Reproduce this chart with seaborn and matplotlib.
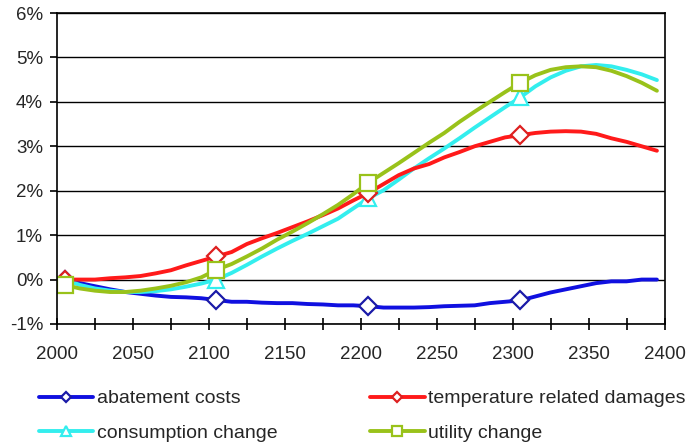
import numpy as np
import pandas as pd
import matplotlib
matplotlib.use("Agg")
import matplotlib.pyplot as plt
from matplotlib.ticker import MultipleLocator, FuncFormatter
import seaborn as sns

years = list(range(2005, 2400, 10))

abatement_costs = [
    -0.02, -0.08, -0.15, -0.22, -0.28, -0.32, -0.36, -0.39, -0.40, -0.42,
    -0.46, -0.50, -0.50, -0.52, -0.53, -0.53, -0.55, -0.56, -0.58, -0.58,
    -0.60, -0.63, -0.63, -0.63, -0.62, -0.60, -0.59, -0.58, -0.53, -0.50,
    -0.47, -0.38, -0.29, -0.22, -0.15, -0.08, -0.04, -0.04, 0.00, 0.00,
]
temperature_damages = [
    0.00, 0.00, 0.00, 0.03, 0.05, 0.08, 0.14, 0.21, 0.32, 0.42,
    0.52, 0.62, 0.80, 0.93, 1.05, 1.18, 1.31, 1.45, 1.60, 1.78,
    1.95, 2.15, 2.35, 2.50, 2.60, 2.75, 2.87, 3.00, 3.10, 3.20,
    3.25, 3.30, 3.33, 3.34, 3.33, 3.28, 3.18, 3.10, 3.00, 2.90,
]
consumption_change = [
    0.00, -0.12, -0.20, -0.25, -0.28, -0.28, -0.26, -0.22, -0.16, -0.09,
    0.00, 0.15, 0.33, 0.52, 0.70, 0.87, 1.03, 1.20, 1.37, 1.60,
    1.83, 2.01, 2.25, 2.50, 2.73, 2.95, 3.18, 3.42, 3.65, 3.88,
    4.10, 4.35, 4.55, 4.70, 4.80, 4.83, 4.80, 4.72, 4.62, 4.49,
]
utility_change = [
    -0.12, -0.20, -0.25, -0.28, -0.28, -0.25, -0.20, -0.14, -0.06, 0.05,
    0.22, 0.35, 0.52, 0.70, 0.90, 1.08, 1.27, 1.47, 1.68, 1.92,
    2.18, 2.40, 2.62, 2.85, 3.08, 3.30, 3.55, 3.78, 4.00, 4.22,
    4.43, 4.60, 4.72, 4.78, 4.80, 4.78, 4.70, 4.58, 4.43, 4.25,
]

# label, values, line colour, marker edge colour, marker, marker size
series = [
    ("abatement costs", abatement_costs, "#1010e0", "#1a1aa8", "D", 9),
    ("consumption change", consumption_change, "#33eeee", "#33eeee", "^", 12),
    ("temperature related damages", temperature_damages, "#ff1a1a", "#dd2020", "D", 9),
    ("utility change", utility_change, "#99c21a", "#99c21a", "s", 12),
]

sns.set_theme(style="white")
plt.rcParams["font.family"] = ["Liberation Sans", "DejaVu Sans"]

fig = plt.figure(figsize=(6.88, 4.47), dpi=100)
ax = fig.add_axes([57 / 688, 123 / 447, 607.5 / 688, 311 / 447])

for label, values, color, edge, marker, msize in series:
    df = pd.DataFrame({"year": years, "value": values})
    sns.lineplot(
        data=df, x="year", y="value", ax=ax, color=color, linewidth=2.8,
        marker=marker, markersize=msize, markerfacecolor="white",
        markeredgecolor=edge, markeredgewidth=1.6, markevery=10,
        label=label,
    )

ax.set_xlim(2000, 2400)
ax.set_ylim(-1, 6)
ax.xaxis.set_major_locator(MultipleLocator(50))
ax.xaxis.set_minor_locator(MultipleLocator(25))
ax.yaxis.set_major_locator(MultipleLocator(1))
ax.yaxis.set_major_formatter(FuncFormatter(lambda v, p: f"{v:.0f}%"))
ax.set_xlabel("")
ax.set_ylabel("")

ax.grid(axis="y", color="black", linewidth=1.0)
ax.grid(axis="x", visible=False)
ax.set_axisbelow(True)
for s in ax.spines.values():
    s.set_color("black")
    s.set_linewidth(1.2)

ax.tick_params(axis="x", which="both", direction="inout", length=9, width=1.2,
               color="black", labelsize=13.5, pad=11, bottom=True)
ax.tick_params(axis="y", which="major", direction="out", length=5, width=1.2,
               color="black", labelsize=13.5, pad=5, left=True)

handles, labels = ax.get_legend_handles_labels()
ax.get_legend().remove()
fig.legend(handles, labels, ncol=2, loc="upper left",
           bbox_to_anchor=(31 / 688, 1 - 382 / 447), frameon=False,
           fontsize=14, handlelength=2.8, handletextpad=0.2,
           labelspacing=0.85, columnspacing=4.75, borderaxespad=0,
           markerscale=0.55)

fig.savefig("out.png", dpi=100)
